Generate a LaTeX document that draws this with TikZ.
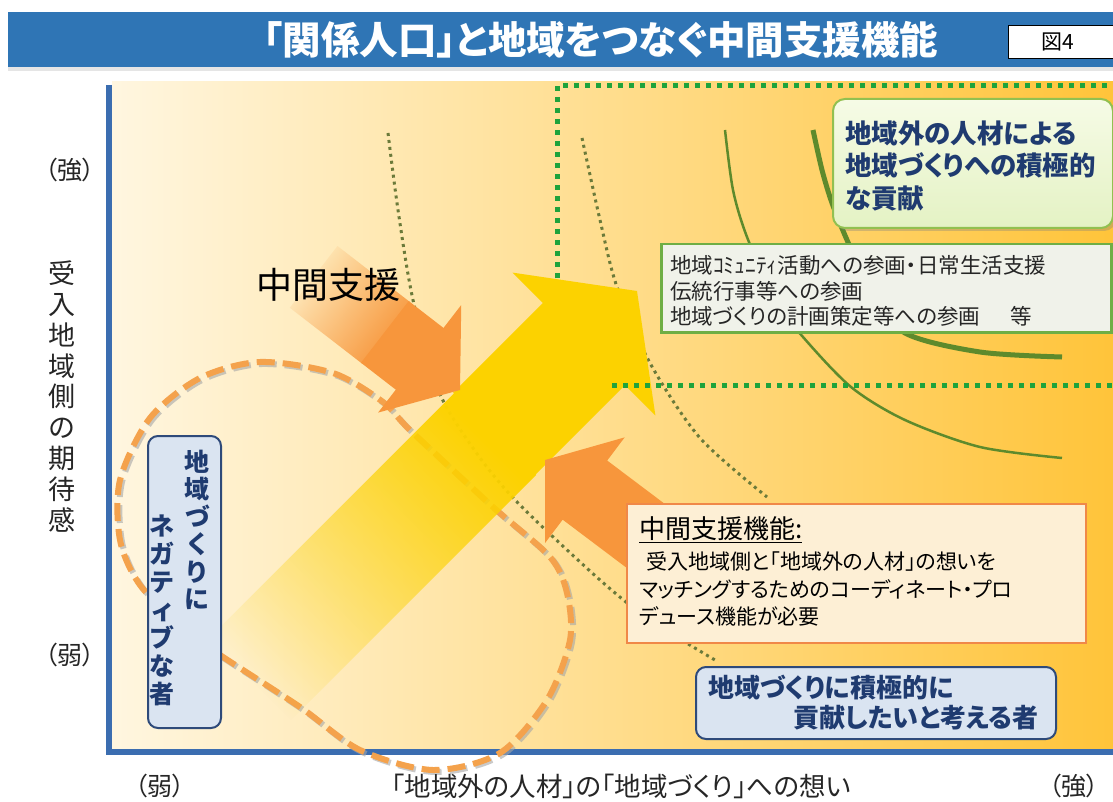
\documentclass[tikz,border=0pt]{standalone}
\usepackage{fontspec}
\setmainfont[RawFeature=+palt]{Noto Sans CJK JP}
\newfontfamily\jpfull{Noto Sans CJK JP}
\usetikzlibrary{fadings,shadows}
\newcommand{\myfs}[2]{\fontsize{#1}{#2}\selectfont}
\definecolor{titleblue}{HTML}{2F75B5}
\definecolor{axisblue}{HTML}{3B6DB0}
\definecolor{bgL}{HTML}{FFF6E0}
\definecolor{bgM}{HTML}{FFE39C}
\definecolor{bgR}{HTML}{FFC43A}
\definecolor{dotgreen}{HTML}{1FA33C}
\definecolor{olivec}{HTML}{5E8A2C}
\definecolor{dotolive}{HTML}{6B7A3A}
\definecolor{ayellow}{HTML}{FCD200}
\definecolor{aorange}{HTML}{F7963C}
\definecolor{loopor}{HTML}{F4A24C}
\definecolor{navyt}{HTML}{1F3B70}
\definecolor{boxblue}{HTML}{DAE4F1}
\definecolor{boxnavy}{HTML}{2E4A7A}
\definecolor{lgtop}{HTML}{F6FBE6}
\definecolor{lgbot}{HTML}{E4F2C4}
\definecolor{lgdraw}{HTML}{92C050}
\definecolor{btwofill}{HTML}{F0F2EA}
\definecolor{btwodraw}{HTML}{6FAE45}
\definecolor{bfourfill}{HTML}{FDEFD5}
\definecolor{bfourdraw}{HTML}{F08848}
\tikzfading[name=fadein, left color=transparent!100, right color=transparent!0]
\begin{document}
\begin{tikzpicture}[x=1pt,y=-1pt,
  boxnode/.style={inner sep=0pt, anchor=north west},
  txt/.style={inner sep=0pt},
  bluebox/.style={boxnode, draw=boxnavy, fill=boxblue, line width=2pt, rounded corners=10pt},
  dotcurve/.style={dotolive, line width=3pt, dash pattern=on 3pt off 4pt},
  greendots/.style={dotgreen, line width=5pt, dash pattern=on 5pt off 6pt},
  loopline/.style={line width=6pt, dash pattern=on 18pt off 8pt},
  axislabel/.style={txt, text=black!85, font={\myfs{25}{30}}}
]
\useasboundingbox (0,0) rectangle (1113,802);
\fill[white] (0,0) rectangle (1113,802);
% title
\node[boxnode, fill=titleblue, minimum width=1105pt, minimum height=55pt] (bar) at (8,12) {};
\fill[black!10] (8,67) rectangle (1113,71);
\node[txt, text=white, font={\myfs{38.5}{42}\bfseries}] (title) at (601,40) {「関係人口」と地域をつなぐ中間支援機能};
\node[boxnode, draw=black, fill=white, line width=1.2pt, minimum width=120pt, minimum height=33pt] (figbox) at (1008,25) {};
\node[txt, font={\myfs{21}{24}}] (fignum) at (1058,42) {図4};
% plot background
\shade[left color=bgL, middle color=bgM, right color=bgR] (112,82) rectangle (1113,749);
% curves
\draw[dotcurve] plot[smooth] coordinates {(388,133) (398,210) (413,300) (438,390) (478,455) (520,505) (600,580) (650,620) (715,660)};
\draw[dotcurve] plot[smooth] coordinates {(582,138) (600,220) (617,287) (650,363) (700,438) (767,497)};
\draw[olivec, line width=2.5pt] plot[smooth] coordinates {(725,130) (733,190) (747,237) (775,300) (803,337) (851,387) (905,420) (980,447) (1062,458)};
\draw[olivec, line width=5pt] plot[smooth] coordinates {(813,130) (822,170) (832,203) (847,240) (870,290) (905,333) (980,352) (1062,357)};
% axes
\draw[axisblue, line width=6pt] (109,85) -- (109,752) -- (1113,752);
% loop
\draw[loopline, gray!70, opacity=0.6, shift={(2,2)}] plot[smooth cycle] coordinates {(185,630) (220,655) (300,707) (360,750) (433,770) (500,753) (547,700) (570,640) (567,593) (550,557) (493,507) (410,430) (383,402) (333,373) (260,362) (200,378) (150,418) (120,480) (120,540) (140,585)};
\draw[loopline, loopor] plot[smooth cycle] coordinates {(185,630) (220,655) (300,707) (360,750) (433,770) (500,753) (547,700) (570,640) (567,593) (550,557) (493,507) (410,430) (383,402) (333,373) (260,362) (200,378) (150,418) (120,480) (120,540) (140,585)};
% yellow arrow
\begin{scope}[shift={(637,291)}, rotate=45]
  \fill[ayellow] (0,0) -- (-75,-101) -- (-75,-58) -- (-202,-58) -- (-202,58) -- (-75,58) -- (-75,101) -- cycle;
  \coordinate (ya) at (-200,-58);
  \coordinate (yb) at (-200,58);
  \coordinate (yc) at (-560,58);
  \coordinate (yd) at (-560,-58);
\end{scope}
\fill[ayellow, path fading=fadein, fading angle=45] (ya) -- (yb) -- (yc) -- (yd) -- cycle;
% orange arrow 1
\begin{scope}[shift={(460,390)}, rotate=-37.7]
  \fill[aorange] (0,0) -- (-51,-68) -- (-51,-39) -- (-95,-39) -- (-95,39) -- (-51,39) -- (-51,68) -- cycle;
  \coordinate (oa) at (-93,-39);
  \coordinate (ob) at (-93,39);
  \coordinate (oc) at (-185,39);
  \coordinate (od) at (-185,-39);
\end{scope}
\fill[aorange, path fading=fadein, fading angle=-37.7] (oa) -- (ob) -- (oc) -- (od) -- cycle;
% orange arrow 2
\begin{scope}[shift={(545,460)}, rotate=143]
  \fill[aorange] (0,0) -- (-50,-66) -- (-50,-37) -- (-210,-37) -- (-210,37) -- (-50,37) -- (-50,66) -- cycle;
\end{scope}
% green dotted frame
\draw[greendots] (557,278) -- (557,86) -- (1113,86);
\draw[greendots] (612,385) -- (1113,385);
% box 1
\node[boxnode, draw=lgdraw, line width=2pt, rounded corners=12pt, top color=lgtop, bottom color=lgbot,
      drop shadow={shadow xshift=3pt, shadow yshift=-3pt, opacity=0.35},
      minimum width=280pt, minimum height=129pt] (bone) at (832,98) {};
\node[txt, anchor=west, align=left, text=navyt, font={\myfs{26.5}{32.5}\bfseries}] (bonet) at (845,165.5) {地域外の人材による\\地域づくりへの積極的\\な貢献};
% box 2
\node[boxnode, draw=btwodraw, fill=btwofill, line width=2.5pt, minimum width=450pt, minimum height=88pt] (btwo) at (660,243) {};
\node[txt, anchor=west, align=left, text=black!85, font={\myfs{21.5}{25.5}}] (btwot) at (670,291) {地域ｺﾐｭﾆﾃｨ活動への参画・日常生活支援\\伝統行事等への参画\\地域づくりの計画策定等への参画\hspace{30pt}等};
% box 4
\node[boxnode, draw=bfourdraw, fill=bfourfill, line width=2pt, minimum width=459pt, minimum height=139pt] (bfour) at (626,503) {};
\node[txt, anchor=west, font={\myfs{26}{29}}] (bfourh) at (639,530) {\underline{中間支援機能:}};
\node[txt, anchor=west, align=left, font={\myfs{21}{27.5}}] (bfourt) at (639,589) {\hspace*{7pt}受入地域側と「地域外の人材」の想いを\\マッチングするためのコーディネート・プロ\\デュース機能が必要};
% box 5
\node[bluebox, minimum width=360pt, minimum height=72pt] (bfive) at (695,666) {};
\node[txt, anchor=west, text=navyt, font={\myfs{26}{28}\bfseries}] (bfivea) at (708,688) {地域づくりに積極的に};
\node[txt, anchor=west, text=navyt, font={\myfs{26}{28}\bfseries}] (bfiveb) at (793,718) {貢献したいと考える者};
% box 3
\node[bluebox, minimum width=73pt, minimum height=292pt] (bthree) at (147,435) {};
\node[txt, align=center, text=navyt, font={\myfs{25}{27.5}\bfseries}] (bthreea) at (197,530) {地\\域\\づ\\く\\り\\に};
\node[txt, align=center, text=navyt, font={\myfs{25}{27.9}\bfseries}] (bthreeb) at (162,610.5) {ネ\\ガ\\テ\\ィ\\ブ\\な\\者};
% label
\node[txt, font={\myfs{36}{40}}] (chukan) at (328,285) {中間支援};
% axis labels
\node[axislabel] (yhi) at (70,170) {（強）};
\node[axislabel] (ylo) at (70,655) {（弱）};
\node[txt, align=center, text=black!85, font={\jpfull\myfs{27}{30.8}}] (ylab) at (62,396.5) {受\\入\\地\\域\\側\\の\\期\\待\\感};
\node[axislabel] (xlo) at (160,786) {（弱）};
\node[txt, text=black!85, font={\myfs{26.5}{30}}] (xlab) at (621,786) {「地域外の人材」の「地域づくり」への想い};
\node[axislabel] (xhi) at (1074,786) {（強）};
\end{tikzpicture}
\end{document}
